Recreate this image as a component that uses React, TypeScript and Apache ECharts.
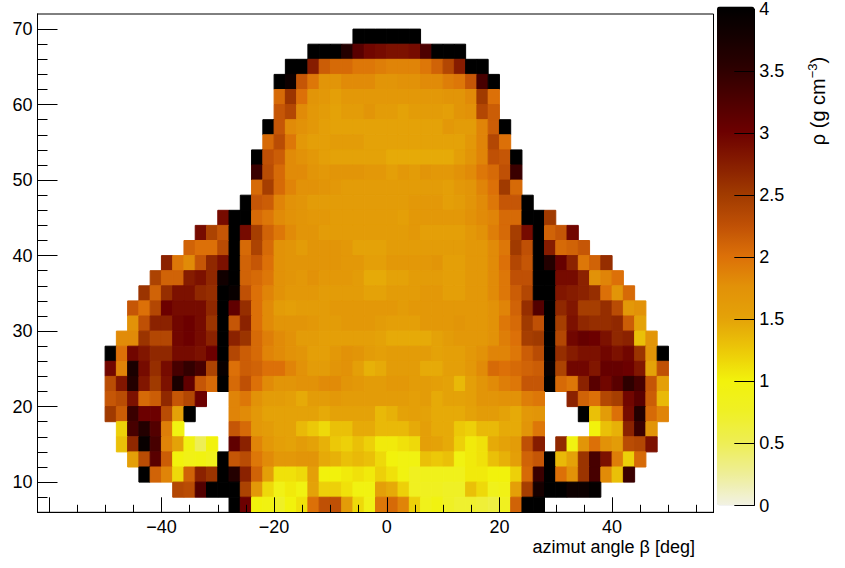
import React, { useEffect, useRef } from "react";
import * as echarts from "echarts";

const N: null = null;
const rowLow = [68, 66, 64, 62, 60, 58, 56, 54, 52, 50, 48, 46, 44, 42, 40, 38, 36, 34, 32, 30, 28, 26, 24, 22, 20, 18, 16, 14, 12, 10, 8, 6];
const rowStart = [-6, -14, -18, -20, -20, -20, -22, -22, -24, -24, -24, -26, -30, -34, -36, -40, -42, -44, -46, -46, -48, -50, -50, -50, -50, -50, -48, -48, -46, -44, -38, -28];
const density: (number | null)[][] = [
  [4, 4, 4, 4, 4, 4],
  [4, 4, 4, 3.6, 3.15, 2.95, 2.9, 2.85, 2.85, 2.9, 3.25, 4, 4, 4],
  [4, 4, 2.75, 2.15, 2.05, 2.05, 1.95, 1.95, 1.9, 1.85, 1.85, 1.85, 1.95, 2.1, 2.35, 2.75, 4, 4],
  [4, 3.85, 2.2, 1.95, 1.7, 1.7, 1.8, 1.8, 1.8, 1.7, 1.7, 1.75, 1.75, 1.8, 1.8, 1.9, 1.95, 2.2, 3.3, 4],
  [2.05, 2.55, 2.0, 1.7, 1.65, 1.55, 1.65, 1.65, 1.65, 1.65, 1.65, 1.65, 1.65, 1.65, 1.65, 1.7, 1.7, 1.8, 2.5, 2.0],
  [2.2, 2.35, 1.8, 1.65, 1.6, 1.5, 1.6, 1.6, 1.7, 1.6, 1.6, 1.5, 1.6, 1.6, 1.6, 1.55, 1.7, 1.75, 2.35, 2.15],
  [4, 2.2, 1.8, 1.75, 1.65, 1.55, 1.5, 1.5, 1.5, 1.5, 1.5, 1.5, 1.5, 1.5, 1.5, 1.5, 1.65, 1.6, 1.6, 1.85, 2.15, 4],
  [2.05, 2.3, 1.95, 1.65, 1.55, 1.55, 1.6, 1.6, 1.6, 1.5, 1.5, 1.5, 1.5, 1.5, 1.5, 1.5, 1.5, 1.5, 1.65, 1.85, 2.35, 2.0],
  [4, 2.25, 2.15, 1.8, 1.75, 1.65, 1.55, 1.5, 1.5, 1.5, 1.5, 1.5, 1.45, 1.45, 1.45, 1.45, 1.45, 1.45, 1.55, 1.7, 1.85, 2.25, 2.2, 4],
  [3.4, 2.3, 2.05, 1.8, 1.8, 1.7, 1.65, 1.7, 1.7, 1.7, 1.65, 1.65, 1.55, 1.65, 1.6, 1.7, 1.65, 1.65, 1.75, 1.8, 1.95, 2.05, 2.25, 3.4],
  [2.05, 2.45, 2.05, 1.85, 1.75, 1.75, 1.7, 1.65, 1.6, 1.6, 1.6, 1.6, 1.6, 1.6, 1.6, 1.6, 1.6, 1.55, 1.65, 1.7, 1.85, 2.0, 2.5, 2.05],
  [4, 2.2, 2.15, 1.85, 1.75, 1.7, 1.6, 1.6, 1.6, 1.6, 1.6, 1.6, 1.6, 1.6, 1.6, 1.65, 1.65, 1.65, 1.55, 1.6, 1.7, 1.8, 1.95, 2.2, 2.2, 4],
  [2.9, 4, 4, 2.05, 1.95, 1.8, 1.75, 1.7, 1.65, 1.65, 1.6, 1.6, 1.6, 1.6, 1.6, 1.6, 1.55, 1.65, 1.65, 1.65, 1.65, 1.65, 1.75, 1.8, 1.85, 2.05, 2.05, 4, 4, 2.5],
  [2.9, 2.4, 2.2, 4, 2.9, 2.45, 2.1, 1.95, 1.8, 1.7, 1.7, 1.6, 1.6, 1.6, 1.6, 1.6, 1.6, 1.6, 1.6, 1.65, 1.55, 1.55, 1.55, 1.55, 1.65, 1.75, 1.9, 2.05, 2.45, 2.9, 4, 2.1, 2.2, 2.95],
  [2.1, 2.0, 2.0, 2.3, 4, 2.05, 2.4, 2.05, 1.75, 1.7, 1.6, 1.7, 1.7, 1.7, 1.65, 1.5, 1.5, 1.5, 1.6, 1.6, 1.6, 1.6, 1.6, 1.6, 1.6, 1.65, 1.65, 1.8, 1.95, 2.5, 2.25, 4, 2.75, 2.05, 2.1, 2.2],
  [2.7, 1.95, 1.8, 2.2, 2.65, 2.85, 4, 2.1, 2.2, 2.0, 1.75, 1.7, 1.7, 1.7, 1.7, 1.7, 1.65, 1.65, 1.55, 1.55, 1.65, 1.65, 1.65, 1.65, 1.7, 1.55, 1.55, 1.65, 1.65, 1.8, 2.0, 2.35, 2.2, 4, 3.6, 3.05, 2.7, 1.95, 2.1, 2.6],
  [2.4, 2.1, 2.1, 2.75, 2.85, 2.65, 3.8, 4, 2.1, 2.05, 1.95, 1.75, 1.7, 1.65, 1.75, 1.65, 1.65, 1.65, 1.6, 1.45, 1.45, 1.5, 1.5, 1.6, 1.6, 1.6, 1.55, 1.55, 1.65, 1.65, 1.8, 1.95, 2.25, 2.25, 4, 4, 2.9, 2.9, 2.7, 1.75, 1.85, 2.0],
  [2.55, 2.1, 2.6, 2.85, 2.85, 2.65, 2.6, 4, 3.9, 2.25, 2.0, 1.85, 1.75, 1.65, 1.65, 1.65, 1.6, 1.6, 1.6, 1.6, 1.5, 1.5, 1.6, 1.6, 1.6, 1.65, 1.65, 1.55, 1.55, 1.65, 1.65, 1.8, 1.95, 2.15, 2.35, 4, 4, 2.8, 2.75, 2.7, 2.6, 2.0, 1.7, 2.05],
  [2.2, 2.0, 2.35, 3.0, 2.9, 2.9, 2.9, 2.65, 4, 3.1, 2.6, 2.0, 1.8, 1.6, 1.55, 1.6, 1.6, 1.6, 1.65, 1.65, 1.65, 1.65, 1.65, 1.65, 1.6, 1.65, 1.65, 1.65, 1.65, 1.65, 1.65, 1.65, 1.75, 1.85, 2.1, 2.6, 3.2, 4, 2.65, 2.8, 2.45, 2.45, 2.6, 2.3, 1.65, 1.75],
  [1.75, 2.25, 2.7, 2.7, 2.95, 3.0, 2.9, 2.55, 4, 2.2, 2.7, 2.0, 1.8, 1.7, 1.7, 1.7, 1.65, 1.6, 1.6, 1.65, 1.65, 1.65, 1.6, 1.55, 1.55, 1.55, 1.65, 1.65, 1.65, 1.7, 1.65, 1.65, 1.75, 1.95, 2.05, 2.5, 2.25, 4, 2.45, 2.85, 2.65, 2.6, 2.6, 2.65, 2.15, 1.5],
  [1.8, 1.8, 2.55, 2.35, 2.35, 2.95, 3.0, 2.9, 2.7, 4, 2.7, 2.55, 2.05, 1.9, 1.8, 1.75, 1.6, 1.6, 1.55, 1.55, 1.55, 1.55, 1.55, 1.5, 1.45, 1.45, 1.45, 1.45, 1.5, 1.6, 1.65, 1.65, 1.65, 1.75, 1.9, 2.0, 2.45, 2.5, 4, 2.35, 2.95, 3.05, 3.0, 2.85, 2.65, 2.7, 1.3, 1.7],
  [4, 2.0, 2.95, 2.8, 2.65, 2.65, 2.9, 2.9, 2.85, 3.0, 4, 2.35, 2.15, 2.05, 1.85, 1.8, 1.75, 1.7, 1.55, 1.55, 1.65, 1.75, 1.7, 1.6, 1.55, 1.6, 1.6, 1.6, 1.6, 1.5, 1.55, 1.55, 1.65, 1.75, 1.85, 1.85, 1.95, 2.15, 2.3, 4, 2.6, 2.75, 2.85, 2.85, 2.95, 2.85, 2.95, 2.55, 1.7, 4],
  [2.95, 1.85, 3.7, 2.9, 2.6, 2.9, 3.3, 3.45, 3.3, 2.4, 3.9, 2.0, 2.15, 2.1, 2.0, 2.0, 1.85, 1.75, 1.6, 1.6, 1.7, 1.75, 1.55, 1.4, 1.45, 1.6, 1.6, 1.6, 1.45, 1.45, 1.55, 1.55, 1.65, 1.8, 2.05, 2.0, 2.05, 2.1, 2.15, 3.9, 2.4, 2.95, 2.95, 2.8, 3.05, 3.05, 3.0, 2.8, 1.5, 2.25],
  [2.3, 2.8, 3.6, 2.8, 2.5, 2.85, 3.7, 3.1, 2.2, 2.05, 4, 2.05, 2.25, 2.0, 1.8, 1.7, 1.7, 1.75, 1.75, 1.8, 1.8, 1.7, 1.65, 1.6, 1.6, 1.65, 1.65, 1.6, 1.6, 1.55, 1.5, 1.35, 1.55, 1.7, 1.8, 1.9, 1.95, 2.2, 2.2, 4, 2.05, 1.95, 2.7, 3.15, 2.95, 3.15, 3.5, 3.3, 2.2, 1.55],
  [2.2, 2.3, 2.85, 2.05, 2.15, 2.65, 2.2, 2.35, 3.0, N, N, 1.85, 1.95, 1.75, 1.6, 1.6, 1.55, 1.45, 1.6, 1.6, 1.65, 1.6, 1.6, 1.6, 1.6, 1.6, 1.6, 1.55, 1.6, 1.45, 1.5, 1.5, 1.55, 1.7, 1.7, 1.75, 1.75, 1.9, 1.95, N, N, 2.7, 2.1, 2.0, 2.35, 2.45, 2.95, 3.15, 2.15, 1.35],
  [2.5, 2.15, 3.4, 3.0, 3.0, 2.3, 1.5, 4, N, N, N, 1.85, 1.8, 1.65, 1.5, 1.5, 1.5, 1.5, 1.5, 1.45, 1.5, 1.5, 1.5, 1.5, 1.35, 1.4, 1.5, 1.55, 1.5, 1.45, 1.45, 1.45, 1.5, 1.6, 1.6, 1.5, 1.45, 1.65, 1.7, N, N, N, 4, 1.3, 1.6, 2.0, 2.9, 3.6, 2.05, 1.85],
  [1.2, 3.3, 3.6, 3.2, 1.9, 0.95, N, N, N, N, 2.2, 2.05, 1.65, 1.6, 1.5, 1.5, 1.35, 1.25, 1.15, 1.3, 1.3, 1.45, 1.45, 1.35, 1.35, 1.35, 1.45, 1.55, 1.45, 1.45, 1.25, 1.2, 1.35, 1.35, 1.45, 1.45, 1.7, 1.95, N, N, N, N, 1.0, 1.3, 1.4, 2.7, 3.4, 1.7],
  [1.3, 2.65, 3.9, 3.3, 1.85, 1.5, 0.95, 0.5, 1.0, N, 3.1, 2.7, 1.85, 1.65, 1.55, 1.5, 1.6, 1.5, 1.4, 1.25, 1.2, 1.3, 1.2, 1.05, 1.05, 1.1, 1.15, 1.55, 1.5, 1.45, 1.2, 1.05, 1.1, 1.45, 1.5, 1.6, 2.25, 2.75, N, 2.65, 0.95, 1.7, 2.0, 1.75, 1.6, 2.3, 2.35, 2.85],
  [1.55, 2.3, 3.15, 2.15, 1.0, 0.9, 0.95, 0.85, 4, 2.2, 2.3, 1.95, 1.8, 1.65, 1.65, 1.7, 1.7, 1.45, 1.4, 1.3, 1.35, 1.3, 1.15, 1.0, 0.95, 0.95, 1.3, 1.25, 1.3, 0.95, 1.05, 1.1, 1.3, 1.4, 1.55, 2.1, 2.2, 4, 1.35, 1.5, 2.55, 3.3, 2.85, 1.9, 1.2, 2.05],
  [4, 2.1, 1.85, 1.15, 2.1, 2.7, 2.55, 4, 3.6, 2.7, 2.1, 1.55, 1.1, 1.1, 1.15, 1.55, 1.0, 1.0, 1.05, 1.1, 1.05, 1.2, 1.1, 0.95, 0.8, 0.85, 0.85, 0.85, 0.85, 1.05, 1.05, 1.0, 1.0, 1.2, 2.05, 3.4, 4, 2.0, 1.75, 2.55, 3.3, 1.8, 1.3, 3.4],
  [2.35, 2.3, 3.2, 4, 4, 4, 2.4, 1.65, 1.15, 0.9, 1.05, 0.95, 1.5, 1.2, 1.2, 1.1, 0.95, 0.95, 1.55, 1.45, 1.2, 0.8, 0.8, 0.8, 0.75, 0.75, 1.3, 1.15, 0.85, 0.9, 1.55, 2.45, 3.75, 4, 4, 3.85, 3.85, 3.95],
  [4, 3.0, 1.0, 0.95, 0.75, 1.0, 1.1, 2.0, 2.25, 2.25, 1.6, 1.15, 0.9, 1.95, 2.05, 1.85, 1.2, 0.85, 0.95, 0.75, 0.7, 0.7, 0.65, 0.6, 0.8, 2.1, 4, 4],
];
const xMajor = [-60, -40, -20, 0, 20, 40];
const xMinor = [-55, -50, -45, -35, -30, -25, -15, -10, -5, 5, 10, 15, 25, 30, 35, 45, 50, 55];
const yMajor = [10, 20, 30, 40, 50, 60, 70];
const yMinor = [8, 12, 14, 16, 18, 22, 24, 26, 28, 32, 34, 36, 38, 42, 44, 46, 48, 52, 54, 56, 58, 62, 64, 66, 68];
const xLabels = [-40, -20, 0, 20, 40];
const palette = ["#f2f2e4", "#eeee98", "#eeee55", "#eff025", "#f2f20c", "#ecc808", "#e4a208", "#e29208", "#dc7008", "#bf5005", "#a03a00", "#861c00", "#6c0000", "#4d0000", "#2d0000", "#150000", "#000000"];
const xTitle = "azimut angle β [deg]";

const CELL = 2;
const FONT = '"Liberation Sans", Arial, sans-serif';
const ink = "#000";

const cells: number[][] = [];
density.forEach((row, r) =>
  row.forEach((v, i) => {
    if (v !== null) cells.push([rowStart[r] + i * CELL, rowLow[r], v]);
  })
);

const tickAxis = (extra: any) => ({
  type: "value",
  z: 5,
  splitLine: { show: false },
  axisLine: { show: true, onZero: false, lineStyle: { color: ink, width: 1 } },
  ...extra,
});

const plotRect = { left: 37.5, top: 14, width: 676, height: 498.3 };

export default function App() {
  const ref = useRef<HTMLDivElement>(null);
  useEffect(() => {
    document.body.style.margin = "0";
    const chart = echarts.init(ref.current!, undefined, { renderer: "svg" });
    chart.setOption({
      animation: false,
      backgroundColor: "#fff",
      textStyle: { fontFamily: FONT },
      grid: [
        { ...plotRect, show: true, borderColor: ink, borderWidth: 1, backgroundColor: "transparent" },
        { left: 717, top: 6.5, width: 37.3, height: 499, show: false },
        { ...plotRect, show: false },
      ],
      visualMap: {
        type: "continuous",
        min: 0,
        max: 4,
        dimension: 2,
        seriesIndex: 0,
        left: 717,
        top: 6.5,
        padding: 0,
        z: 3,
        itemWidth: 37.3,
        itemHeight: 499,
        calculable: false,
        realtime: false,
        hoverLink: false,
        showLabel: false,
        inRange: { color: palette },
      },
      xAxis: [
        tickAxis({
          gridIndex: 0, min: -62, max: 58, position: "bottom",
          axisTick: { show: true, inside: true, length: 15, customValues: xMajor, lineStyle: { color: ink } },
          axisLabel: { show: true, customValues: xLabels, fontSize: 18, color: "#000", margin: 6, fontFamily: FONT,
            formatter: (v: number) => String(v).replace("-", "−") },
        }),
        { type: "value", gridIndex: 1, min: 0, max: 1, show: false },
        tickAxis({
          gridIndex: 2, min: -62, max: 58, position: "bottom",
          axisTick: { show: true, inside: true, length: 7.5, customValues: xMinor, lineStyle: { color: ink } },
          axisLabel: { show: false },
        }),
      ],
      yAxis: [
        tickAxis({
          gridIndex: 0, min: 6, max: 72, position: "left",
          axisTick: { show: true, inside: true, length: 20, customValues: yMajor, lineStyle: { color: ink } },
          axisLabel: { show: true, customValues: yMajor, fontSize: 18, color: "#000", margin: 5, fontFamily: FONT },
        }),
        {
          type: "value", gridIndex: 1, min: 0, max: 4, interval: 0.5, position: "right", z: 6,
          splitLine: { show: false },
          axisLine: { show: true, onZero: false, lineStyle: { color: ink, width: 1 } },
          axisTick: { show: true, inside: true, length: 20, lineStyle: { color: ink } },
          axisLabel: { show: true, fontSize: 18, color: "#000", margin: 5, fontFamily: FONT },
        },
        tickAxis({
          gridIndex: 2, min: 6, max: 72, position: "left",
          axisTick: { show: true, inside: true, length: 10, customValues: yMinor, lineStyle: { color: ink } },
          axisLabel: { show: false },
        }),
      ],
      series: [
        {
          type: "custom",
          xAxisIndex: 0,
          yAxisIndex: 0,
          clip: true,
          silent: true,
          encode: { x: 0, y: 1 },
          data: cells,
          renderItem: (_: any, api: any) => {
            const x = api.value(0);
            const y = api.value(1);
            const a = api.coord([x, y + CELL]);
            const b = api.coord([x + CELL, y]);
            const fill = api.visual("color");
            return {
              type: "rect",
              shape: { x: a[0], y: a[1], width: b[0] - a[0], height: b[1] - a[1] },
              style: { fill, stroke: fill, lineWidth: 1 },
            };
          },
        },
      ],
      graphic: [
        { type: "text", x: 695, y: 547, style: { text: xTitle, font: `18px ${FONT}`, fill: "#000", textAlign: "right", textVerticalAlign: "middle" } },
        {
          type: "text", x: 817, y: 101, rotation: Math.PI / 2,
          style: {
            text: "{a|ρ (g cm}{s|−3}{a|)}",
            textAlign: "center",
            textVerticalAlign: "middle",
            rich: {
              a: { font: `20px ${FONT}`, fill: "#000", verticalAlign: "bottom", lineHeight: 22 },
              s: { font: `13px ${FONT}`, fill: "#000", verticalAlign: "top", lineHeight: 22 },
            },
          },
        },
      ],
    });
    return () => chart.dispose();
  }, []);
  return <div ref={ref} style={{ position: "fixed", left: 0, top: 0, width: 845, height: 568 }} />;
}
